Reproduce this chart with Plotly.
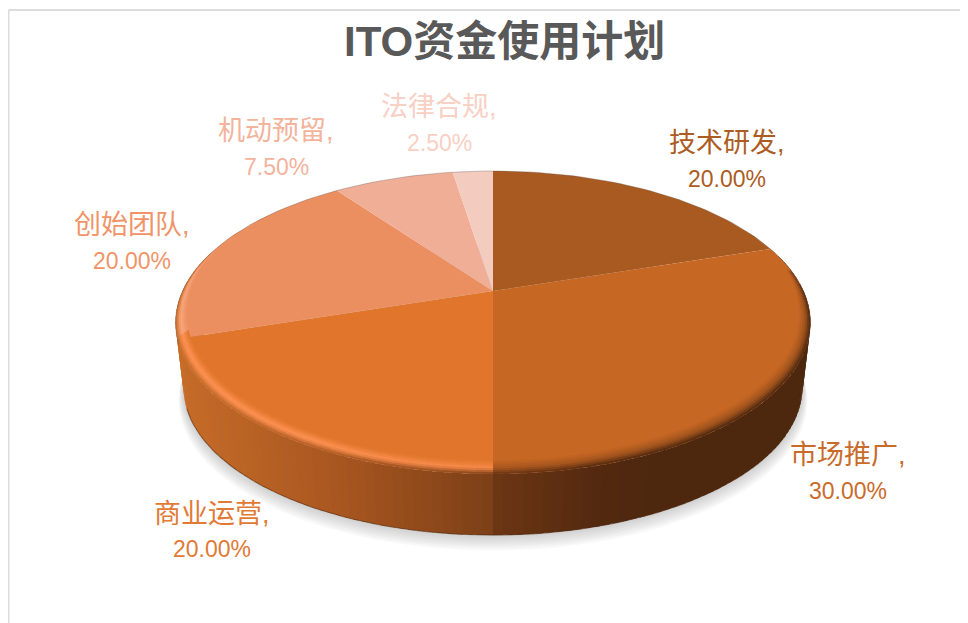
import math
import plotly.graph_objects as go

title = "ITO资金使用计划"
categories = ["技术研发", "市场推广", "商业运营", "创始团队", "机动预留", "法律合规"]
values = [20.0, 30.0, 20.0, 20.0, 7.5, 2.5]
colors = ["#A85A20", "#C66724", "#E0752B", "#EB8F61", "#F0AE97", "#F4CBBF"]
label_colors = ["#AC5C23", "#C96B2B", "#E17A35", "#F09468", "#F3B39C", "#F8D0C4"]
label_x = [727, 848, 212, 132, 276, 439]
name_y = [143, 455, 514, 225, 131, 107]
pct_y = [179, 491, 549, 261, 167, 143]

W, H = 968, 623
PAGE_MARGIN = 8
CX, CY = 493.0, 291.0
A, B, K = 310.5, 145.0, 0.208
WALL_SCALE, WALL_DROP = 0.975, 65.6


def hex2rgb(h):
    return tuple(int(h[i:i + 2], 16) for i in (1, 3, 5))


def mix(c1, c2, t):
    t = max(0.0, min(1.0, t))
    return tuple(a + (b - a) * t for a, b in zip(c1, c2))


def css(c):
    return "rgb(%d,%d,%d)" % tuple(round(x) for x in c)


def project(theta_deg, r=1.0, scale=1.0, drop=0.0, lift=0.0):
    t = math.radians(theta_deg)
    u, v = r * math.sin(t), -r * math.cos(t)
    den = 1 - K * v
    return CX + scale * A * u / den, CY + scale * B * v / den + drop - lift


def poly(fig, pts, color, name=None, line=0.0):
    xs = [p[0] for p in pts] + [pts[0][0]]
    ys = [p[1] for p in pts] + [pts[0][1]]
    fig.add_trace(go.Scatter(x=xs, y=ys, mode="lines", fill="toself", fillcolor=color,
                             line=dict(color=color, width=line), hoverinfo="skip" if name is None else "text",
                             text=name, showlegend=False))


total = sum(values)
bounds = [0.0]
for val in values:
    bounds.append(bounds[-1] + 360.0 * val / total)

fig = go.Figure()

# soft shadow below the disc
for i in range(7, 0, -1):
    pts = [project(a, scale=WALL_SCALE + 0.0022 * i, drop=WALL_DROP + 1.8 * i) for a in range(0, 360, 3)]
    poly(fig, pts, "rgba(120,120,120,0.055)")

# side wall, shaded from left to right
wall_stops = [(175, "#C66C29"), (340, "#A85620"), (490, "#7C4017")]
right_stops = [(495, "#6C3614"), (600, "#53290F"), (650, "#4D280F"), (820, "#4D280F")]


def wall_color(x, theta):
    stops = right_stops if theta < 180 else wall_stops
    if x <= stops[0][0]:
        return hex2rgb(stops[0][1])
    for (x0, c0), (x1, c1) in zip(stops, stops[1:]):
        if x <= x1:
            return mix(hex2rgb(c0), hex2rgb(c1), (x - x0) / (x1 - x0))
    return hex2rgb(stops[-1][1])


step = 1.5
a = 75.0
while a < 285.0:
    a2 = a + step
    a3 = a2 + step * 0.6 if not (a < 180 <= a2 + step * 0.6) else a2
    top1, top2 = project(a), project(a3)
    bot1, bot2 = project(a, scale=WALL_SCALE, drop=WALL_DROP), project(a3, scale=WALL_SCALE, drop=WALL_DROP)
    mid_x = project(a + step / 2)[0]
    poly(fig, [top1, top2, bot2, bot1], css(wall_color(mid_x, a + step / 2)))
    a = a2

# dark lower edge of the wall
edge = [project(x, scale=WALL_SCALE, drop=WALL_DROP) for x in range(120, 251, 2)]
fig.add_trace(go.Scatter(x=[p[0] for p in edge], y=[p[1] for p in edge], mode="lines",
                         line=dict(color="rgba(80,40,15,0.55)", width=1.1), hoverinfo="skip", showlegend=False))

# top faces
for i, name in enumerate(categories):
    n = max(4, int((bounds[i + 1] - bounds[i]) / 1.5))
    arc = [project(bounds[i] + (bounds[i + 1] - bounds[i]) * j / n) for j in range(n + 1)]
    poly(fig, [(CX, CY)] + arc, colors[i], name="%s: %.2f%%" % (name, values[i]))


def face_at(theta):
    for i in range(len(values)):
        if bounds[i] <= theta < bounds[i + 1]:
            return hex2rgb(colors[i])
    return hex2rgb(colors[-1])


def weight(theta):
    # how strongly the rim shows: full at the front, gone at the back
    d = abs(theta - 180.0)
    if d <= 85:
        return 1.0
    return max(0.0, 1 - (d - 85) / 45.0)


RINGS = 7
a = 75.0
bstep = 2.5
while a < 310.0:
    a2 = a + bstep
    th = a + bstep / 2
    a3 = a2 + 1.0
    for b in bounds:
        if a < b <= a3:
            a3 = max(a2, b) if b >= a2 else a2
    w = weight(th)
    if w > 0:
        face = face_at(th)
        x_mid = project(th)[0]
        wall = wall_color(x_mid, th)
        if th >= 180:
            boost = (255, 146, 84) if th < bounds[3] else (250, 166, 122)
            high = mix(face, boost, 0.65 + 0.35 * min(1, (th - 180) / 30))
        else:
            high = mix(face, wall, 0.33)
        for k in range(RINGS):
            t0, t1 = k / RINGS, min(1.0, (k + 1.5) / RINGS)
            r0, r1 = 1 - 0.034 * w * (1 - t0), 1 - 0.034 * w * (1 - t1)
            l0, l1 = 6.0 * w * (1 - t0), 6.0 * w * (1 - t1)
            tm = (k + 0.5) / RINGS
            if tm < 0.55:
                c = mix(face, high, tm / 0.55)
            else:
                c = mix(high, wall if w > 0.5 else high, (tm - 0.55) / 0.45)
            poly(fig, [project(a, r0, lift=l0), project(a3, r0, lift=l0),
                       project(a3, r1, lift=l1), project(a, r1, lift=l1)], css(c))
    a = a2

# fine edge around the back of the disc
back = [project(x) for x in list(range(250, 361, 2)) + list(range(2, 111, 2))]
fig.add_trace(go.Scatter(x=[p[0] for p in back], y=[p[1] for p in back], mode="lines",
                         line=dict(color="rgba(90,70,60,0.45)", width=0.7), hoverinfo="skip", showlegend=False))

cjk = "Liberation Sans, Noto Sans CJK SC, sans-serif"
for i, name in enumerate(categories):
    fig.add_annotation(x=label_x[i], y=name_y[i], text=name + ",", showarrow=False,
                       font=dict(family=cjk, size=27, color=label_colors[i]), xanchor="center", yanchor="middle")
    fig.add_annotation(x=label_x[i], y=pct_y[i], text="%.2f%%" % values[i], showarrow=False,
                       font=dict(family=cjk, size=23, color=label_colors[i]), xanchor="center", yanchor="middle")

fig.add_annotation(x=504, y=41, text=title, showarrow=False,
                   font=dict(family=cjk, size=42, color="#595959", weight=700), xanchor="center", yanchor="middle")

border = dict(type="line", xref="x", yref="y", line=dict(color="#DCDCDC", width=2))
fig.update_layout(
    width=W - PAGE_MARGIN, height=H - PAGE_MARGIN, autosize=False,
    margin=dict(l=0, r=0, t=0, b=0),
    paper_bgcolor="white", plot_bgcolor="white",
    showlegend=False,
    xaxis=dict(range=[PAGE_MARGIN, W], visible=False, fixedrange=True),
    yaxis=dict(range=[H, PAGE_MARGIN], visible=False, fixedrange=True),
    shapes=[dict(border, x0=8.5, y0=10, x1=W, y1=10), dict(border, x0=8.5, y0=10, x1=8.5, y1=H)],
)
fig.write_html("out.html")
